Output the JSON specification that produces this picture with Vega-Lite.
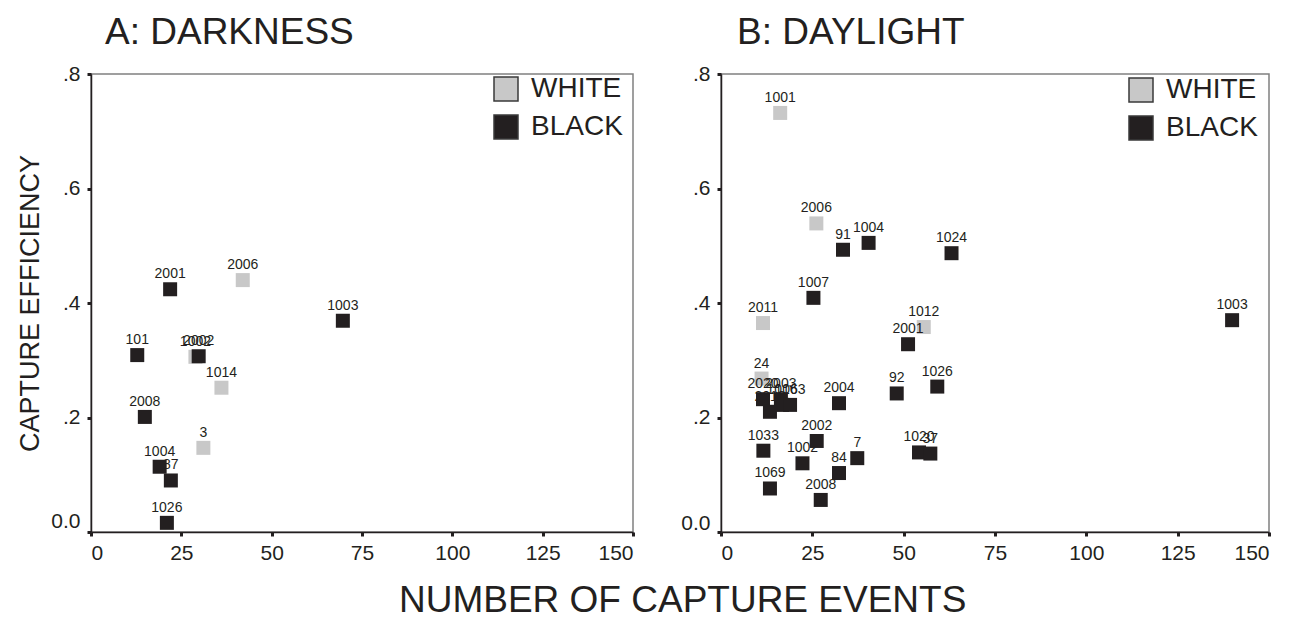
{
  "$schema": "https://vega.github.io/schema/vega-lite/v6.json",
  "background": "white",
  "padding": {"left": 16, "top": 13, "right": 5, "bottom": 5},
  "config": {
    "font": "Liberation Sans",
    "view": {"stroke": "#808080", "strokeWidth": 1.5},
    "axis": {
      "grid": false,
      "domainColor": "#231f20",
      "domainWidth": 1.5,
      "tickColor": "#231f20",
      "tickSize": 4,
      "tickWidth": 3,
      "labelFontSize": 21,
      "labelColor": "#231f20",
      "labelFont": "Liberation Sans",
      "titleFont": "Liberation Sans",
      "titleFontWeight": "normal",
      "titleColor": "#231f20"
    },
    "legend": {
      "orient": "none",
      "title": null,
      "symbolType": "square",
      "symbolSize": 576,
      "symbolStrokeColor": "#3a3a3a",
      "symbolStrokeWidth": 1.5,
      "symbolOpacity": 1,
      "labelFontSize": 28,
      "labelFont": "Liberation Sans",
      "labelColor": "#231f20",
      "labelOffset": 11,
      "rowPadding": 8,
      "padding": 0
    }
  },
  "datasets": {
    "darkness": [
      {"id": "2006", "colour": "WHITE", "events": 42.0, "efficiency": 0.440},
      {"id": "1002", "colour": "WHITE", "events": 28.9, "efficiency": 0.306},
      {"id": "1014", "colour": "WHITE", "events": 36.1, "efficiency": 0.252},
      {"id": "3", "colour": "WHITE", "events": 31.1, "efficiency": 0.147},
      {"id": "2001", "colour": "BLACK", "events": 21.9, "efficiency": 0.424},
      {"id": "101", "colour": "BLACK", "events": 12.8, "efficiency": 0.309},
      {"id": "2002", "colour": "BLACK", "events": 29.8, "efficiency": 0.307},
      {"id": "2008", "colour": "BLACK", "events": 14.9, "efficiency": 0.201},
      {"id": "1004", "colour": "BLACK", "events": 19.0, "efficiency": 0.114},
      {"id": "87", "colour": "BLACK", "events": 22.1, "efficiency": 0.090},
      {"id": "1026", "colour": "BLACK", "events": 21.0, "efficiency": 0.016},
      {"id": "1003", "colour": "BLACK", "events": 69.7, "efficiency": 0.369}
    ],
    "daylight": [
      {"id": "1001", "colour": "WHITE", "events": 16.2, "efficiency": 0.732},
      {"id": "2006", "colour": "WHITE", "events": 26.1, "efficiency": 0.539},
      {"id": "2011", "colour": "WHITE", "events": 11.5, "efficiency": 0.365},
      {"id": "1012", "colour": "WHITE", "events": 55.5, "efficiency": 0.358},
      {"id": "24", "colour": "WHITE", "events": 11.1, "efficiency": 0.268},
      {"id": "91", "colour": "BLACK", "events": 33.4, "efficiency": 0.493},
      {"id": "1004", "colour": "BLACK", "events": 40.4, "efficiency": 0.505},
      {"id": "1024", "colour": "BLACK", "events": 63.1, "efficiency": 0.487},
      {"id": "1007", "colour": "BLACK", "events": 25.3, "efficiency": 0.409},
      {"id": "2001", "colour": "BLACK", "events": 51.2, "efficiency": 0.328},
      {"id": "1003", "colour": "BLACK", "events": 139.9, "efficiency": 0.370},
      {"id": "92", "colour": "BLACK", "events": 48.1, "efficiency": 0.242},
      {"id": "1026", "colour": "BLACK", "events": 59.2, "efficiency": 0.254},
      {"id": "1020", "colour": "BLACK", "events": 54.2, "efficiency": 0.139},
      {"id": "37", "colour": "BLACK", "events": 57.3, "efficiency": 0.137},
      {"id": "2020", "colour": "BLACK", "events": 11.5, "efficiency": 0.232},
      {"id": "2003", "colour": "BLACK", "events": 16.4, "efficiency": 0.232},
      {"id": "2010", "colour": "BLACK", "events": 13.4, "efficiency": 0.210},
      {"id": "1016", "colour": "BLACK", "events": 16.7, "efficiency": 0.222},
      {"id": "1063", "colour": "BLACK", "events": 18.9, "efficiency": 0.222},
      {"id": "2004", "colour": "BLACK", "events": 32.3, "efficiency": 0.225},
      {"id": "2002", "colour": "BLACK", "events": 26.2, "efficiency": 0.159},
      {"id": "1033", "colour": "BLACK", "events": 11.6, "efficiency": 0.142},
      {"id": "7", "colour": "BLACK", "events": 37.3, "efficiency": 0.129},
      {"id": "1002", "colour": "BLACK", "events": 22.3, "efficiency": 0.120},
      {"id": "84", "colour": "BLACK", "events": 32.3, "efficiency": 0.103},
      {"id": "1069", "colour": "BLACK", "events": 13.4, "efficiency": 0.076},
      {"id": "2008", "colour": "BLACK", "events": 27.3, "efficiency": 0.056}
    ]
  },
  "title": {
    "text": "NUMBER OF CAPTURE EVENTS",
    "orient": "bottom",
    "anchor": "middle",
    "fontSize": 37,
    "fontWeight": "normal",
    "font": "Liberation Sans",
    "color": "#231f20",
    "offset": 19,
    "dx": 39
  },
  "spacing": 44,
  "resolve": {
    "scale": {"color": "independent", "x": "independent", "y": "independent"},
    "legend": {"color": "independent"}
  },
  "hconcat": [
    {
      "width": 542,
      "height": 458,
      "title": {"text": "A: DARKNESS", "anchor": "start", "fontSize": 37, "fontWeight": "normal", "font": "Liberation Sans", "color": "#231f20", "offset": 11, "dx": 14, "frame": "group"},
      "data": {"name": "darkness"},
      "layer": [
        {
          "mark": {"type": "point", "shape": "square", "filled": true, "size": 196, "opacity": 1},
          "encoding": {
            "x": {"field": "events", "type": "quantitative", "scale": {"domain": [0, 150], "nice": false}, "axis": {"title": null, "values": [0, 25, 50, 75, 100, 125, 150], "labelPadding": 6}},
            "y": {"field": "efficiency", "type": "quantitative", "scale": {"domain": [0, 0.8], "nice": false}, "axis": {"title": "CAPTURE EFFICIENCY", "titleFontSize": 27, "titlePadding": 6, "values": [0, 0.2, 0.4, 0.6, 0.8], "labelPadding": 7, "labelExpr": "datum.value == 0 ? '0.0' : replace(format(datum.value, '.1f'), '0.', '.')", "labelOffset": {"condition": {"test": "datum.value == 0", "value": -11}, "value": 0}}},
            "color": {"field": "colour", "type": "nominal", "scale": {"domain": ["WHITE", "BLACK"], "range": ["#c8c8c8", "#231f20"]}, "legend": {"legendX": 401, "legendY": 1}}
          }
        },
        {
          "mark": {"type": "text", "dy": -15, "fontSize": 14, "color": "#231f20", "font": "Liberation Sans"},
          "encoding": {
            "x": {"field": "events", "type": "quantitative"},
            "y": {"field": "efficiency", "type": "quantitative"},
            "text": {"field": "id"}
          }
        }
      ]
    },
    {
      "width": 548,
      "height": 458,
      "title": {"text": "B: DAYLIGHT", "anchor": "start", "fontSize": 37, "fontWeight": "normal", "font": "Liberation Sans", "color": "#231f20", "offset": 11, "dx": 16, "frame": "group"},
      "data": {"name": "daylight"},
      "layer": [
        {
          "mark": {"type": "point", "shape": "square", "filled": true, "size": 196, "opacity": 1},
          "encoding": {
            "x": {"field": "events", "type": "quantitative", "scale": {"domain": [0, 150], "nice": false}, "axis": {"title": null, "values": [0, 25, 50, 75, 100, 125, 150], "labelPadding": 6}},
            "y": {"field": "efficiency", "type": "quantitative", "scale": {"domain": [0, 0.8], "nice": false}, "axis": {"title": null, "values": [0, 0.2, 0.4, 0.6, 0.8], "labelPadding": 7, "labelExpr": "datum.value == 0 ? '0.0' : replace(format(datum.value, '.1f'), '0.', '.')", "labelOffset": {"condition": {"test": "datum.value == 0", "value": -9}, "value": 0}}},
            "color": {"field": "colour", "type": "nominal", "scale": {"domain": ["WHITE", "BLACK"], "range": ["#c8c8c8", "#231f20"]}, "legend": {"legendX": 406, "legendY": 2}}
          }
        },
        {
          "mark": {"type": "text", "dy": -15, "fontSize": 14, "color": "#231f20", "font": "Liberation Sans"},
          "encoding": {
            "x": {"field": "events", "type": "quantitative"},
            "y": {"field": "efficiency", "type": "quantitative"},
            "text": {"field": "id"}
          }
        }
      ]
    }
  ]
}
